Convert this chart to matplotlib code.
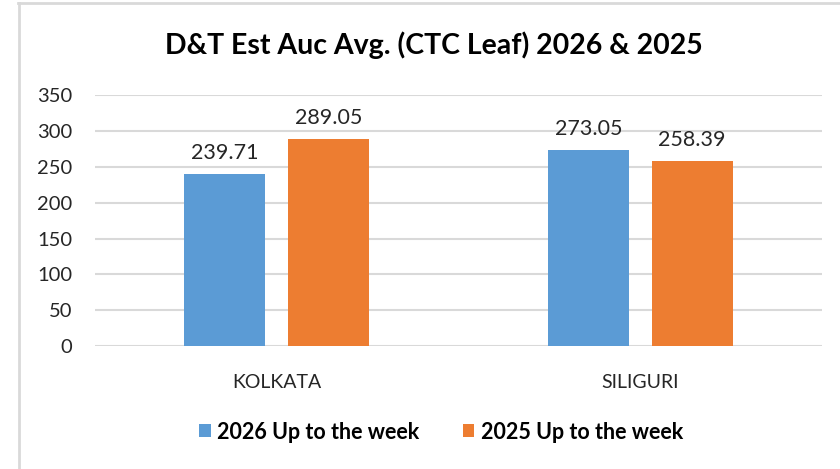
import matplotlib
matplotlib.use("Agg")
import matplotlib.pyplot as plt
import numpy as np

categories = ["KOLKATA", "SILIGURI"]
series_names = ["2026 Up to the week", "2025 Up to the week"]
values_2026 = [239.71, 273.05]
values_2025 = [289.05, 258.39]
yticks = [0, 50, 100, 150, 200, 250, 300, 350]
title = "D&T Est Auc Avg. (CTC Leaf) 2026 & 2025"

colors = ["#5B9BD5", "#ED7D31"]
font = "Lato"
plt.rcParams['font.family'] = [font, 'DejaVu Sans']

fig = plt.figure(figsize=(8.4, 4.69), dpi=100)
ax = fig.add_axes([95/840, 1-346/469, (822-95)/840, (346-95.3)/469])

x = np.arange(len(categories))
w = 0.223
off = 0.143
b1 = ax.bar(x - off, values_2026, w, color=colors[0], label=series_names[0], zorder=3)
b2 = ax.bar(x + off, values_2025, w, color=colors[1], label=series_names[1], zorder=3)

for bars, vals in ((b1, values_2026), (b2, values_2025)):
    for rect, v in zip(bars, vals):
        ax.annotate(f"{v:.2f}", (rect.get_x() + rect.get_width()/2, v),
                    xytext=(0, 8), textcoords="offset points",
                    ha="center", va="bottom", fontsize=15.5, color="#262626")

ax.set_xlim(-0.5, 1.5)
ax.set_ylim(0, 350)
ax.set_yticks(yticks)
ax.set_xticks(x)
ax.set_xticklabels(categories)
ax.tick_params(axis="both", length=0, labelcolor="#262626")
ax.tick_params(axis="x", pad=20, labelsize=14)
ax.tick_params(axis="y", pad=16.5, labelsize=14.5)
ax.grid(axis="y", color="#d9d9d9", linewidth=1.5, zorder=0)
for s in ax.spines.values():
    s.set_visible(False)

fig.text(434/840, 1-45/469, title, ha="center", va="center",
         fontsize=20.5, fontweight="bold", color="#000000")

leg = fig.legend(handles=[b1, b2], labels=series_names, loc="center",
                 bbox_to_anchor=(441/840, 1-432/469), ncol=2, frameon=False,
                 prop={"weight": "bold", "size": 15.5}, handlelength=0.55,
                 handleheight=0.55, handletextpad=0.3, columnspacing=2.0)

# chart border
fig.add_artist(plt.Line2D([19/840, 19/840], [0, 1-3/469], color="#d9d9d9", lw=2,
                          transform=fig.transFigure))
fig.add_artist(plt.Line2D([18/840, 1], [1-3.5/469, 1-3.5/469], color="#d9d9d9", lw=2,
                          transform=fig.transFigure))

fig.savefig("out.png", dpi=100)
